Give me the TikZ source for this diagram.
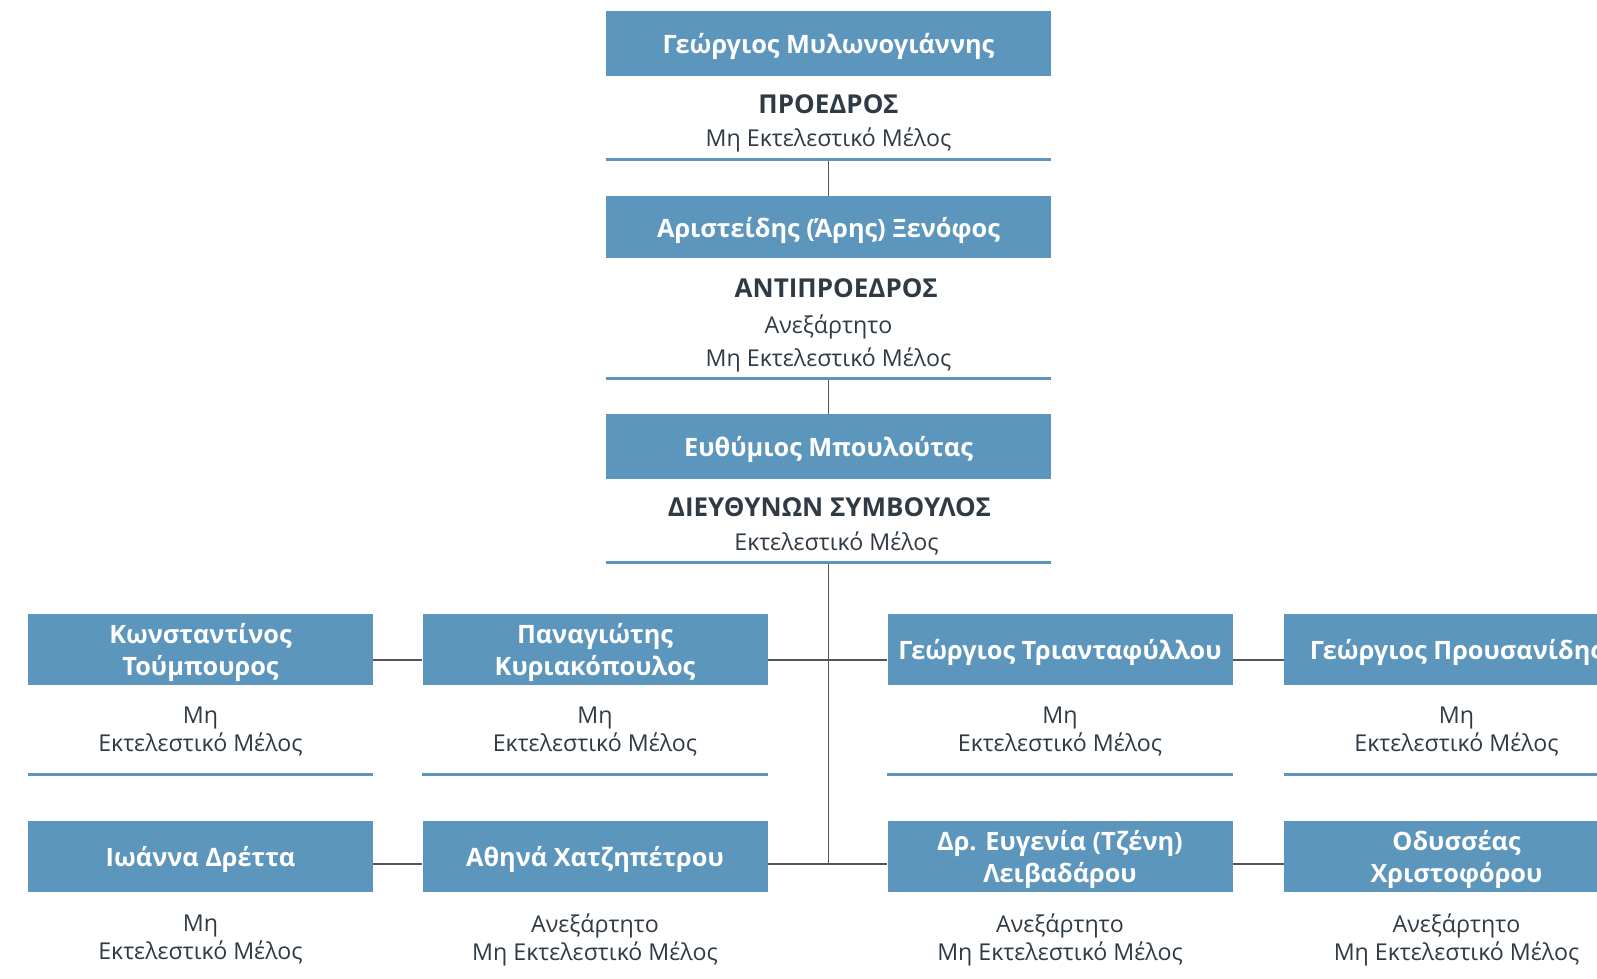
\documentclass[tikz,border=0pt]{standalone}
\usepackage{fontspec}
\setmainfont{Open Sans}
\usetikzlibrary{positioning, calc}
\definecolor{cBox}{RGB}{93,150,188}
\definecolor{cText}{RGB}{47,58,68}
\definecolor{cLink}{RGB}{85,85,85}
\tikzset{
	member/.style    ={rectangle, fill=cBox, text=white, font=\fontsize{25.3}{32}\selectfont\bfseries, minimum width=345pt, minimum height=71pt, align=center, inner sep=0pt, text depth=0pt},
	headmember/.style={member, minimum width=445pt, minimum height=65pt},
	title/.style     ={text=cText, font=\fontsize{26}{30}\selectfont\bfseries, inner sep=0pt},
	note/.style      ={text=cText, font=\fontsize{23.2}{28}\selectfont, align=center, inner sep=0pt},
	topnote/.style   ={note, font=\fontsize{23.2}{32.5}\selectfont},
	rule/.style      ={draw=cBox, line width=3pt},
	link/.style      ={draw=cLink, line width=1.5pt},
}
\begin{document}
\begin{tikzpicture}[x=1pt, y=-1pt]
	\useasboundingbox (0,0) rectangle (1597,978);
	\clip (0,0) rectangle (1597,978);
	% chair, vice chair, CEO
	\node[headmember] (pres) at (828.5,43.5) {Γεώργιος Μυλωνογιάννης};
	\node[title] (presT) at (828.5,104) {ΠΡΟΕΔΡΟΣ};
	\node[topnote] (presN) at (828.5,139.5) {Μη Εκτελεστικό Μέλος};
	\coordinate (presR) at (828.5,159);
	\node[headmember, minimum height=62pt] (vice) at (828.5,227) {Αριστείδης (Άρης) Ξενόφος};
	\node[title] (viceT) at (836.2,288) {ΑΝΤΙΠΡΟΕΔΡΟΣ};
	\node[topnote] (viceN) at (828.5,343.5) {Ανεξάρτητο\\Μη Εκτελεστικό Μέλος};
	\coordinate (viceR) at (828.5,378);
	\node[headmember] (ceo) at (828.5,446.5) {Ευθύμιος Μπουλούτας};
	\node[title] (ceoT) at (829.5,507) {ΔΙΕΥΘΥΝΩΝ ΣΥΜΒΟΥΛΟΣ};
	\node[topnote] (ceoN) at (836.5,543.5) {Εκτελεστικό Μέλος};
	\coordinate (ceoR) at (828.5,562);
	% board members, first row
	\node[member] (m1) at (200.5,649.5) {Κωνσταντίνος\\Τούμπουρος};
	\node[member] (m2) at (595,649.5) {Παναγιώτης\\Κυριακόπουλος};
	\node[member] (m3) at (1060,649.5) {Γεώργιος Τριανταφύλλου};
	\node[member] (m4) at (1456.5,649.5) {Γεώργιος Προυσανίδης};
	\node[note] (m1N) at (200.5,731.5) {Μη\\Εκτελεστικό Μέλος};
	\node[note] (m2N) at (595,731.5) {Μη\\Εκτελεστικό Μέλος};
	\node[note] (m3N) at (1060,731.5) {Μη\\Εκτελεστικό Μέλος};
	\node[note] (m4N) at (1456.5,731.5) {Μη\\Εκτελεστικό Μέλος};
	% board members, second row
	\node[member] (m5) at (200.5,856.5) {Ιωάννα Δρέττα};
	\node[member] (m6) at (595,856.5) {Αθηνά Χατζηπέτρου};
	\node[member] (m7) at (1060,856.5) {Δρ. Ευγενία (Τζένη)\\Λειβαδάρου};
	\node[member] (m8) at (1456.5,856.5) {Οδυσσέας\\Χριστοφόρου};
	\node[note] (m5N) at (200.5,939.5) {Μη\\Εκτελεστικό Μέλος};
	\node[note] (m6N) at (595,939.5) {Ανεξάρτητο\\Μη Εκτελεστικό Μέλος};
	\node[note] (m7N) at (1060,939.5) {Ανεξάρτητο\\Μη Εκτελεστικό Μέλος};
	\node[note] (m8N) at (1456.5,939.5) {Ανεξάρτητο\\Μη Εκτελεστικό Μέλος};
	\coordinate (row1) at (828.5,660);
	\coordinate (row2) at (828.5,864);
	% connectors
	\draw[link] (presR) -- (vice.north);
	\draw[link] (viceR) -- (ceo.north);
	\draw[link] (ceoR) -- (row2);
	\draw[link] (m1.east |- row1) -- (m2.west |- row1);
	\draw[link] (m2.east |- row1) -- (m3.west |- row1);
	\draw[link] (m3.east |- row1) -- (m4.west |- row1);
	\draw[link] (m5.east |- row2) -- (m6.west |- row2);
	\draw[link] (m6.east |- row2) -- (m7.west |- row2);
	\draw[link] (m7.east |- row2) -- (m8.west |- row2);
	% underlines
	\draw[rule] (pres.west |- presR) -- (pres.east |- presR);
	\draw[rule] (vice.west |- viceR) -- (vice.east |- viceR);
	\draw[rule] (ceo.west |- ceoR) -- (ceo.east |- ceoR);
	\foreach \m in {m1,m2,m3,m4}
		\draw[rule] ($(\m.south west)+(0,89)$) -- ($(\m.south east)+(0,89)$);
\end{tikzpicture}
\end{document}
